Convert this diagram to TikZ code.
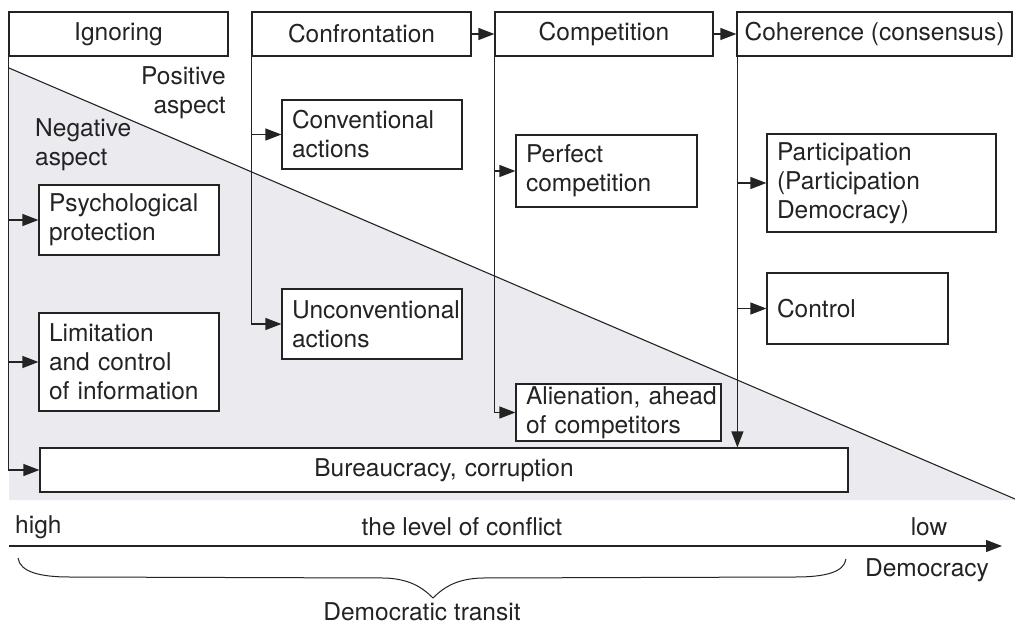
\documentclass[tikz,border=0pt]{standalone}
\usepackage{fontspec}
\setmainfont{TeX Gyre Heros}
\usetikzlibrary{arrows.meta}
\definecolor{negfill}{RGB}{235,235,239}
\definecolor{ink}{RGB}{35,35,35}
\hyphenpenalty=10000
\exhyphenpenalty=10000
\begin{document}
\begin{tikzpicture}[x=1pt,y=-1pt,
  every node/.style={font=\fontsize{24.5}{29}\selectfont, text=ink},
  topbox/.style={draw=ink, line width=1.2pt, fill=white, minimum height=44pt, inner sep=0pt, align=center},
  itembox/.style={draw=ink, line width=1.2pt, fill=white, inner xsep=10pt, inner ysep=0pt, align=left},
  link/.style={draw=ink, line width=1.2pt},
  arr/.style={link, -{Triangle[length=16pt,width=12pt]}},
  lbl/.style={inner sep=0pt}
]
\useasboundingbox (0,0) rectangle (1015,627);

% shaded negative region and diagonal
\fill[negfill] (9,68) -- (1015,500) -- (9,500) -- cycle;
\draw[ink, line width=1.1pt] (9,68) -- (1015,499);

% top boxes
\node[topbox, minimum width=219pt] (ign)  at (118.5,34) {Ignoring};
\node[topbox, minimum width=219pt] (conf) at (361.5,34) {Confrontation};
\node[topbox, minimum width=218pt] (comp) at (604,34)   {Competition};
\node[topbox, minimum width=275pt] (coh)  at (874.5,34) {Coherence (consensus)};

% aspect labels
\node[lbl, anchor=east, align=right] (pos) at (226,92.5) {Positive\\aspect};
\node[lbl, anchor=west, align=left]  (neg) at (35,145)   {Negative\\aspect};

% item boxes
\node[itembox, text width=160pt, minimum height=70pt] (psy)    at (129,220)   {Psychological\\protection};
\node[itembox, text width=160pt, minimum height=98pt] (lim)    at (129,362)   {Limitation\\and~control\\of~information};
\node[itembox, text width=160pt, minimum height=69pt] (conv)   at (372,134.5) {Conventional\\actions};
\node[itembox, text width=160pt, minimum height=70pt] (unconv) at (372,324)   {Unconventional\\actions};
\node[itembox, text width=161pt, minimum height=72pt] (perf)   at (606.5,171) {Perfect\\competition};
\node[itembox, text width=185pt, minimum height=57pt] (alien)  at (618.5,412.5) {Alienation,~ahead\\of~competitors};
\node[itembox, text width=209pt, minimum height=98pt] (part)   at (881.5,183) {Participation\\(Participation\\Democracy)};
\node[itembox, text width=161pt, minimum height=71pt] (ctrl)   at (857.5,308.5) {Control};
\node[itembox, text width=788pt, minimum height=44pt, align=center] (bur) at (444,470) {Bureaucracy, corruption};

% connectors: top row
\draw[arr] (conf.east) -- (comp.west);
\draw[arr] (comp.east) -- (coh.west);

% Ignoring branch
\draw[arr] (ign.south west) |- (bur.west);
\draw[arr] (ign.south west |- psy.west) -- (psy.west);
\draw[arr] (ign.south west |- lim.west) -- (lim.west);

% Confrontation branch
\draw[arr] (conf.south west) |- (unconv.west);
\draw[arr] (conf.south west |- conv.west) -- (conv.west);

% Competition branch
\draw[arr] (comp.south west) |- (alien.west);
\draw[arr] (comp.south west |- perf.west) -- (perf.west);

% Coherence branch
\coordinate (cohdown) at ([xshift=1pt]coh.south west);
\draw[arr] (cohdown) -- (cohdown |- bur.north);
\draw[arr] (cohdown |- part.west) -- (part.west);
\draw[arr] (cohdown |- ctrl.west) -- (ctrl.west);

% axis
\coordinate (axL) at (9,546);
\coordinate (axR) at (1002,546);
\draw[arr] (axL) -- (axR);
\node[lbl, anchor=west] (high) at (15,527) {high};
\node[lbl] (level) at (462,527) {the level of conflict};
\node[lbl] (low) at (929,527) {low};
\node[lbl] (dem) at (927,570) {Democracy};

% brace
\draw[ink, line width=1pt] (18,558) .. controls (20,572) and (40,577) .. (70,577)
  -- (385,578) .. controls (408,579) and (421,586) .. (433,598)
  .. controls (445,586) and (458,579) .. (481,578)
  -- (795,577) .. controls (826,577) and (844,572) .. (846,559);
\node[lbl] (transit) at (422,612) {Democratic transit};
\end{tikzpicture}
\end{document}
